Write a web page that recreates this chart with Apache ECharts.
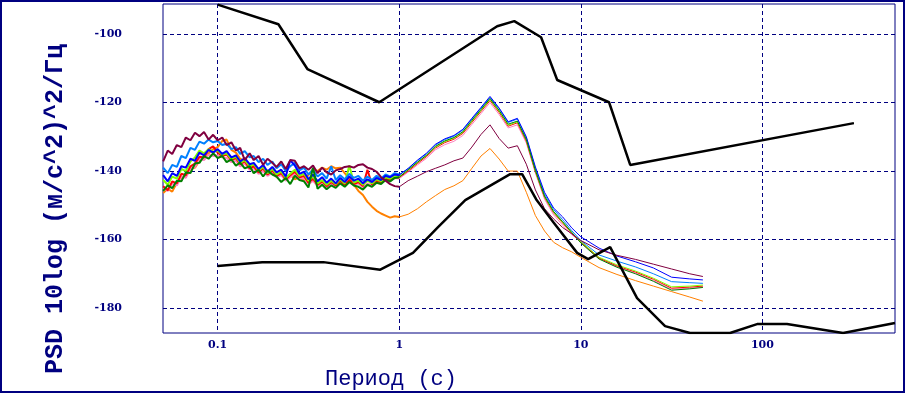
<!DOCTYPE html>
<html>
<head>
<meta charset="utf-8">
<script src="https://cdn.jsdelivr.net/npm/echarts@6.0.0/dist/echarts.min.js"></script>
<style>
html,body{margin:0;padding:0;background:#fff;}
#chart{width:905px;height:393px;}
</style>
</head>
<body>
<div id="chart"></div>
<script>
// периоды, с (шумный участок 0.05-1 с, затем длинные периоды)
var periods = [
	0.0501, 0.0531, 0.0562, 0.0596, 0.0631, 0.0668, 0.0708, 0.0750, 0.0794, 0.0841,
	0.0891, 0.0944, 0.1, 0.106, 0.112, 0.119, 0.126, 0.133, 0.141, 0.150,
	0.158, 0.168, 0.178, 0.188, 0.200, 0.211, 0.224, 0.237, 0.251, 0.266,
	0.282, 0.299, 0.316, 0.335, 0.355, 0.376, 0.398, 0.422, 0.447, 0.473,
	0.501, 0.531, 0.562, 0.596, 0.631, 0.668, 0.708, 0.750, 0.794, 0.841,
	0.891, 0.944, 1.0,
	1.12, 1.26, 1.41, 1.58, 1.78, 2.0, 2.24, 2.51, 2.82, 3.16,
	3.55, 3.98, 4.47, 5.01, 5.62, 6.31, 7.08, 7.94, 8.91, 10,
	12.6, 15.8, 20, 25.1, 31.6, 39.8, 47
];
var noisyCount = 53; // точки до 1 с включительно

var maroonPsd = [
	-137.2, -134.0, -135.0, -132.4, -133.0, -130.2, -131.0, -128.8, -129.8, -128.6,
	-130.8, -129.4, -131.0, -130.2, -132.4, -131.6, -134.0, -133.2, -136.8, -134.8,
	-136.8, -135.6, -138.2, -136.4, -137.6, -138.8, -137.2, -139.4, -136.8, -137.0,
	-139.2, -138.6, -139.6, -138.4, -140.6, -139.0, -140.4, -141.0, -139.8, -139.4,
	-138.8, -138.6, -139.0, -138.2, -138.0, -139.0, -139.4, -140.2, -141.8, -142.8,
	-143.8, -144.4, -144.6,
	-142.8, -141.5, -140.2, -139.2, -138.2, -137.0, -136.2, -133.0, -129.3, -126.5,
	-130.5, -133.3, -132.6, -138.0, -145.5, -151.0, -154.0, -156.5, -158.3, -160.3,
	-163.0, -164.6, -165.8, -167.2, -168.6, -170.0, -170.8
];
var bluePsd = [
	-141.2, -143.0, -140.6, -141.4, -138.6, -139.0, -136.4, -137.0, -134.6, -135.4,
	-133.8, -134.6, -133.6, -135.0, -134.2, -136.0, -135.4, -137.2, -136.2, -138.0,
	-137.6, -139.4, -138.2, -140.2, -138.8, -140.4, -139.6, -141.6, -136.8, -138.4,
	-140.8, -140.2, -142.4, -141.0, -143.0, -141.8, -143.4, -142.2, -143.6, -142.0,
	-143.2, -141.6, -142.8, -142.2, -143.6, -142.4, -143.2, -142.0, -142.6, -141.4,
	-141.8, -141.0, -141.2,
	-139.2, -136.8, -134.8, -132.2, -130.6, -129.6, -127.8, -124.6, -121.4, -118.2,
	-121.6, -125.6, -124.6, -130.0, -138.8, -146.2, -150.8, -153.4, -156.6, -159.2,
	-162.5, -164.8, -166.5, -168.3, -171.0, -171.5, -171.8
];
var dodgerPsd = [
	-139.0, -140.6, -138.2, -138.8, -135.6, -136.2, -133.2, -133.8, -131.4, -132.0,
	-130.8, -131.6, -131.2, -132.4, -132.0, -133.6, -133.0, -135.0, -134.2, -136.0,
	-135.6, -137.4, -136.4, -138.2, -137.2, -139.2, -138.0, -140.0, -138.6, -137.6,
	-139.8, -139.0, -141.0, -139.6, -141.6, -140.6, -142.2, -138.6, -142.6, -141.2,
	-142.4, -140.8, -142.0, -141.4, -142.8, -141.6, -142.6, -141.4, -142.2, -141.0,
	-141.6, -140.6, -141.0,
	-139.3, -137.0, -135.0, -132.4, -130.8, -129.8, -128.0, -124.8, -121.6, -118.5,
	-121.8, -125.8, -124.8, -130.3, -139.2, -146.8, -151.2, -154.2, -157.4, -160.3,
	-164.5, -166.3, -168.0, -170.0, -172.3, -172.6, -172.8
];
var greenPsd = [
	-145.8, -144.2, -145.0, -142.8, -143.0, -140.4, -140.6, -137.8, -137.6, -135.6,
	-136.4, -134.8, -136.2, -135.6, -137.4, -136.6, -138.4, -137.5, -139.2, -138.6,
	-140.6, -139.6, -141.6, -139.8, -141.0, -141.6, -143.2, -142.0, -143.8, -141.4,
	-142.6, -143.0, -144.8, -139.0, -145.2, -144.0, -145.3, -144.2, -144.9, -143.6,
	-144.6, -143.2, -144.2, -144.6, -145.4, -144.0, -144.6, -143.4, -143.8, -142.6,
	-143.0, -142.0, -141.8,
	-139.6, -137.4, -135.4, -132.8, -131.2, -130.2, -128.5, -125.2, -122.0, -118.8,
	-122.3, -126.3, -125.4, -130.8, -139.8, -147.3, -151.8, -154.8, -157.9, -161.0,
	-165.7, -168.1, -170.0, -172.2, -174.8, -174.4, -174.0
];
var limePsd = [
	-142.6, -144.0, -141.6, -142.2, -139.4, -140.0, -137.2, -136.0, -134.0, -134.8,
	-133.6, -134.4, -134.0, -135.2, -134.8, -136.4, -135.8, -137.6, -136.8, -138.6,
	-138.0, -139.8, -138.8, -140.6, -139.4, -141.0, -140.2, -142.0, -140.8, -139.6,
	-141.4, -140.8, -142.8, -141.6, -143.6, -142.6, -144.0, -142.8, -143.8, -142.4,
	-143.6, -138.4, -143.4, -142.8, -144.0, -142.8, -143.6, -142.4, -143.0, -141.8,
	-142.2, -141.4, -141.6,
	-139.7, -137.5, -135.5, -133.0, -131.4, -130.4, -128.7, -125.5, -122.3, -119.1,
	-122.6, -126.6, -125.6, -131.0, -140.0, -147.5, -152.0, -155.0, -158.0, -160.6,
	-165.2, -167.4, -169.2, -171.3, -173.8, -173.6, -173.3
];
var redPsd = [
	-144.4, -145.6, -143.0, -143.6, -140.8, -141.2, -138.6, -137.8, -135.8, -136.0,
	-133.6, -132.8, -134.6, -135.6, -135.2, -136.8, -136.2, -138.0, -137.2, -139.2,
	-138.6, -140.4, -139.2, -141.0, -139.8, -141.4, -140.6, -142.4, -141.2, -140.2,
	-141.8, -141.4, -143.4, -142.2, -144.0, -143.0, -144.4, -143.2, -144.2, -142.8,
	-144.0, -142.6, -143.8, -143.2, -144.4, -139.6, -144.0, -142.8, -143.4, -142.2,
	-142.6, -141.8, -141.9,
	-140.0, -137.8, -135.8, -133.3, -131.7, -130.7, -129.0, -125.8, -122.6, -119.4,
	-122.9, -126.9, -125.9, -131.3, -140.2, -147.7, -152.2, -155.2, -158.2, -160.8,
	-165.4, -167.7, -169.5, -171.6, -174.2, -173.9, -173.6
];
var pinkPsd = [
	-144.8, -145.8, -143.6, -144.2, -141.6, -142.0, -139.2, -138.8, -136.4, -136.8,
	-135.2, -135.6, -135.4, -136.0, -136.2, -137.4, -137.0, -138.6, -137.8, -139.6,
	-139.2, -140.8, -140.0, -141.4, -140.4, -141.8, -141.2, -142.8, -141.8, -140.8,
	-142.2, -142.0, -143.8, -142.8, -144.4, -143.4, -144.8, -143.6, -144.4, -143.2,
	-144.2, -143.0, -144.0, -143.6, -144.8, -143.6, -144.2, -143.0, -143.6, -142.4,
	-142.8, -142.0, -142.2,
	-140.3, -138.2, -136.3, -133.8, -132.3, -131.3, -129.6, -126.4, -123.2, -120.0,
	-123.5, -127.4, -126.5, -131.8, -140.6, -148.2, -152.8, -155.8, -158.6, -160.5,
	-165.5, -167.9, -169.8, -172.0, -174.5, -174.2, -173.9
];
var orangePsd = [
	-146.4, -145.2, -146.0, -143.4, -142.0, -141.6, -139.4, -139.0, -137.0, -136.2,
	-134.8, -133.6, -133.0, -131.2, -130.8, -133.8, -134.6, -136.4, -137.0, -138.8,
	-138.2, -140.0, -139.2, -141.0, -140.0, -141.6, -140.4, -142.0, -141.0, -142.4,
	-141.8, -142.8, -141.2, -139.4, -140.0, -139.0, -139.6, -138.6, -139.2, -139.0,
	-140.6, -142.2, -144.0, -145.8, -147.0, -149.0, -150.4, -151.6, -152.4, -153.0,
	-153.6, -153.2, -153.4,
	-152.6, -151.0, -149.0, -147.2, -145.4, -144.3, -142.8, -139.2, -135.6, -133.4,
	-136.5, -140.0, -140.0, -146.2, -153.0, -157.5, -160.8, -162.4, -163.6, -165.2,
	-168.2, -170.2, -172.0, -173.6, -175.2, -176.8, -178.0
];

// модели шума (верхняя и нижняя границы)
var highPeriods = [0.1, 0.216, 0.312, 0.776, 3.46, 4.30, 6.04, 7.41, 14.3, 18.7, 319];
var highModel = [-91.4, -97.1, -110.2, -119.9, -97.7, -96.2, -100.9, -113.4, -119.9, -138.2, -126.0];
var lowPeriods = [0.1, 0.176, 0.382, 0.786, 1.19, 1.64, 2.31, 4.08, 4.75, 5.68, 7.04,
	9.54, 10.97, 14.5, 20.4, 29.1, 39.9, 66.3, 93.4, 136.5, 278, 537];
var lowModel = [-167.7, -166.6, -166.6, -168.8, -163.9, -156.3, -148.5, -140.9, -140.9, -148.3, -154.9,
	-163.9, -165.7, -162.2, -177.1, -185.3, -187.3, -187.3, -184.7, -184.7, -187.3, -184.4];

var xTicks = [0.1, 1, 10, 100];
var yTicks = [-180, -160, -140, -120, -100];

var navy = '#000080';

function pairs(xs, ys){
	if (xs.length != ys.length) {
		throw new Error('length mismatch ' + xs.length + ' / ' + ys.length);
	}
	var out = [];
	for (var i = 0; i < xs.length; i++) {
		out.push([xs[i], ys[i]]);
	}
	return out;
}

// каждая кривая: шумный участок потолще + гладкий хвост в 1px
function psdLines(vals, color){
	var all = pairs(periods, vals);
	return [
		{
			type: 'line',
			data: all.slice(0, noisyCount),
			symbol: 'none',
			lineStyle: {color: color, width: 2},
			z: 2
		},
		{
			type: 'line',
			data: all.slice(noisyCount - 1),
			symbol: 'none',
			lineStyle: {color: color, width: 1},
			z: 2
		}
	];
}

function modelLine(xs, ys){
	return {
		type: 'line',
		data: pairs(xs, ys),
		symbol: 'none',
		lineStyle: {color: '#000000', width: 2.5},
		z: 5
	};
}

var seriesval = [].concat(
	psdLines(orangePsd, '#ff8000'),
	psdLines(pinkPsd, '#ff80c0'),
	psdLines(redPsd, '#ff0000'),
	psdLines(limePsd, '#80ff00'),
	psdLines(dodgerPsd, '#0080ff'),
	psdLines(bluePsd, '#0000ff'),
	psdLines(greenPsd, '#008000'),
	psdLines(maroonPsd, '#800040'),
	[modelLine(highPeriods, highModel), modelLine(lowPeriods, lowModel)]
);

var myChart = echarts.init(document.getElementById('chart'));

var option = {
	animation: false,
	backgroundColor: '#ffffff',
	grid: {
		left: 163, top: 4, right: 10, bottom: 60,
		show: true, borderColor: navy, borderWidth: 1
	},
	xAxis: {
		type: 'log',
		min: 0.05,
		max: 537,
		axisLine: {show: false},
		axisTick: {show: false, customValues: xTicks},
		axisLabel: {
			customValues: xTicks,
			color: navy,
			fontFamily: 'DejaVu Serif',
			fontWeight: 'bold',
			fontSize: 11,
			margin: 7
		},
		splitLine: {show: true, lineStyle: {color: navy, type: [4, 3], width: 1}}
	},
	yAxis: {
		type: 'value',
		min: -187.3,
		max: -91.2,
		axisLine: {show: false},
		axisTick: {show: false, customValues: yTicks},
		axisLabel: {
			customValues: yTicks,
			color: navy,
			fontFamily: 'DejaVu Serif',
			fontWeight: 'bold',
			fontSize: 11,
			margin: 41
		},
		splitLine: {show: true, lineStyle: {color: navy, type: [4, 3], width: 1}}
	},
	graphic: [
		{
			type: 'rect',
			shape: {x: 1, y: 1, width: 903, height: 391},
			style: {fill: 'none', stroke: navy, lineWidth: 2},
			silent: true
		},
		{
			type: 'text',
			x: 391, y: 379,
			style: {
				text: 'Период (с)',
				fill: navy,
				font: '22px "Liberation Mono"',
				align: 'center',
				verticalAlign: 'middle'
			}
		},
		{
			type: 'text',
			x: 56, y: 209,
			rotation: Math.PI / 2,
			style: {
				text: 'PSD 10log (м/с^2)^2/Гц',
				fill: navy,
				font: 'bold 25px "Liberation Mono"',
				align: 'center',
				verticalAlign: 'middle'
			}
		}
	],
	series: seriesval
};

myChart.setOption(option);
</script>
</body>
</html>
